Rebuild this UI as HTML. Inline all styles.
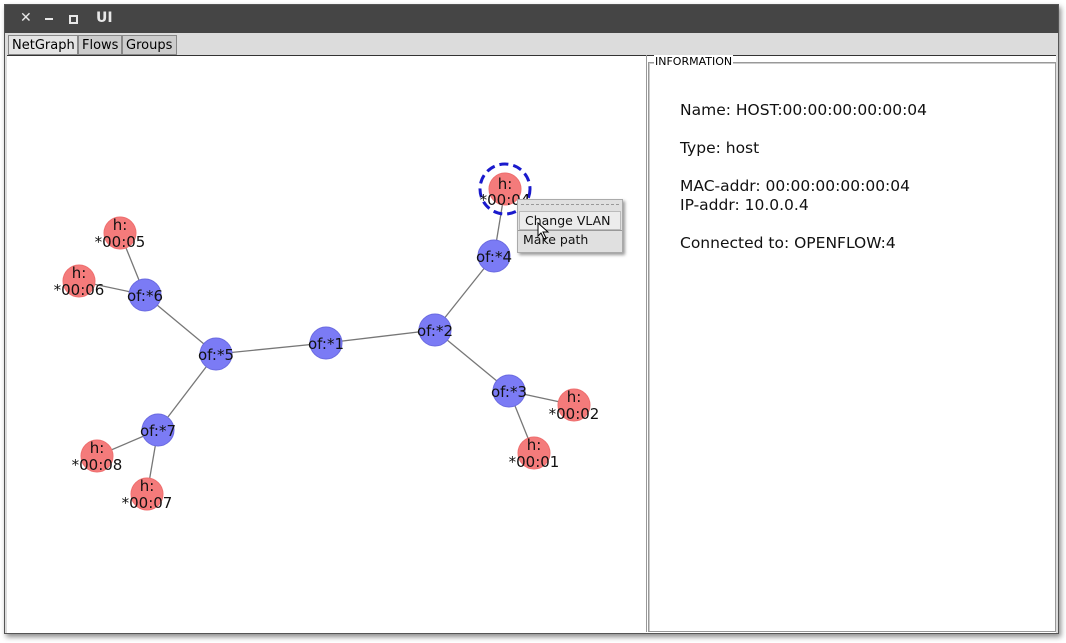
<!DOCTYPE html>
<html><head><style>
body{margin:0;width:1066px;height:643px;background:#fff;overflow:hidden;font-family:"DejaVu Sans","Liberation Sans",sans-serif;}
.win{position:absolute;left:4px;top:4px;width:1053px;height:628px;background:#dcdcdc;box-shadow:2px 3px 5px rgba(0,0,0,0.45);border:1px solid #555;}
.title{position:absolute;left:0;top:0;width:100%;height:28px;background:#454545;color:#e8e8e8;font-weight:bold;font-size:13px;}
.tab{position:absolute;top:30px;height:20px;border:1px solid #888;background:#ccc;font-size:13px;line-height:20px;padding:0 3px;box-sizing:border-box;}
.info{position:absolute;font-size:15.5px;color:#111;}
</style></head><body>
<div class="win">
 <div class="title">
  <span style="position:absolute;left:15px;top:5px;font-size:14px">✕</span>
  <span style="position:absolute;left:40px;top:13px;width:8px;height:2px;background:#e8e8e8;display:block"></span>
  <span style="position:absolute;left:64px;top:10px;width:5px;height:5px;border:2px solid #e8e8e8;display:block"></span>
  <span style="position:absolute;left:91px;top:5px;font-size:14px">UI</span>
 </div>
 <div class="tab" style="left:3px;width:70px;background:#e4e4e4">NetGraph</div>
 <div class="tab" style="left:73px;width:44px">Flows</div>
 <div class="tab" style="left:117px;width:55px">Groups</div>
 <div style="position:absolute;left:2px;top:50px;width:1049px;height:577px;background:#fff;border-top:1px solid #333;"></div>
 <div style="position:absolute;left:641px;top:50px;width:1px;height:577px;background:#999"></div>
 <div style="position:absolute;left:643px;top:57px;width:406px;height:568px;border:1px solid #999;box-shadow:inset 1px 1px 0 #ccc"></div>
 <div style="position:absolute;left:649px;top:50px;background:#fff;font-size:11px;padding:0 1px">INFORMATION</div>
</div>
<div class="info" style="left:680px;top:101px">Name: HOST:00:00:00:00:00:04</div>
<div class="info" style="left:680px;top:139px">Type: host</div>
<div class="info" style="left:680px;top:177px">MAC-addr: 00:00:00:00:00:04</div>
<div class="info" style="left:680px;top:196px">IP-addr: 10.0.0.4</div>
<div class="info" style="left:680px;top:234px">Connected to: OPENFLOW:4</div>
<svg style="position:absolute;left:0;top:0" width="1066" height="643" font-family="DejaVu Sans, Liberation Sans, sans-serif" font-size="15" text-anchor="middle">
<g stroke="#777" stroke-width="1.3">
<line x1="505" y1="189" x2="494" y2="256"/><line x1="494" y1="256" x2="435" y2="330"/>
<line x1="435" y1="330" x2="326" y2="343"/><line x1="326" y1="343" x2="216" y2="354"/>
<line x1="216" y1="354" x2="145" y2="295"/><line x1="145" y1="295" x2="120" y2="233"/>
<line x1="145" y1="295" x2="79" y2="281"/><line x1="216" y1="354" x2="158" y2="430"/>
<line x1="158" y1="430" x2="97" y2="456"/><line x1="158" y1="430" x2="147" y2="494"/>
<line x1="435" y1="330" x2="509" y2="391"/><line x1="509" y1="391" x2="574" y2="405"/>
<line x1="509" y1="391" x2="534" y2="453"/>
</g>
<g fill="#7b7bf5" stroke="#6a6ae0">
<circle cx="494" cy="256" r="16"/><circle cx="435" cy="330" r="16"/><circle cx="326" cy="343" r="16"/>
<circle cx="216" cy="354" r="16"/><circle cx="145" cy="295" r="16"/><circle cx="158" cy="430" r="16"/><circle cx="509" cy="391" r="16"/>
</g>
<g fill="#f47b7b" stroke="#ee6e6e">
<circle cx="505" cy="189" r="16"/><circle cx="120" cy="233" r="16"/><circle cx="79" cy="281" r="16"/>
<circle cx="97" cy="456" r="16"/><circle cx="147" cy="494" r="16"/><circle cx="574" cy="405" r="16"/><circle cx="534" cy="453" r="16"/>
</g>
<circle cx="505" cy="189" r="25" fill="none" stroke="#1a1acc" stroke-width="3" stroke-dasharray="9,5"/>
<g fill="#111">
<text x="494" y="262">of:*4</text><text x="435" y="336">of:*2</text><text x="326" y="349">of:*1</text>
<text x="216" y="360">of:*5</text><text x="145" y="301">of:*6</text><text x="158" y="436">of:*7</text><text x="509" y="397">of:*3</text>
<text x="505" y="189">h:</text><text x="505" y="205">*00:04</text>
<text x="120" y="230">h:</text><text x="120" y="247">*00:05</text>
<text x="79" y="278">h:</text><text x="79" y="295">*00:06</text>
<text x="97" y="453">h:</text><text x="97" y="470">*00:08</text>
<text x="147" y="491">h:</text><text x="147" y="508">*00:07</text>
<text x="574" y="402">h:</text><text x="574" y="419">*00:02</text>
<text x="534" y="450">h:</text><text x="534" y="467">*00:01</text>
</g>
</svg>
<div style="position:absolute;left:517px;top:199px;width:104px;height:52px;background:#e0e0e0;border:1px solid #aaa;box-shadow:2px 2px 3px rgba(0,0,0,0.4);font-size:12.5px;color:#111">
 <div style="margin:4px 3px 0;border-top:1px dashed #999;height:6px"></div>
 <div style="padding:1px 5px;background:#ececec;border:1px solid #bbb;margin:0 1px">Change VLAN</div>
 <div style="padding:1px 5px;border-top:1px solid #999">Make path</div>
</div>
<svg style="position:absolute;left:537px;top:222px" width="14" height="20"><path d="M1 1 L1 14 L4 11 L7 17 L9 16 L6 10 L11 10 Z" fill="#fff" stroke="#000" stroke-width="1"/></svg>
</body></html>
